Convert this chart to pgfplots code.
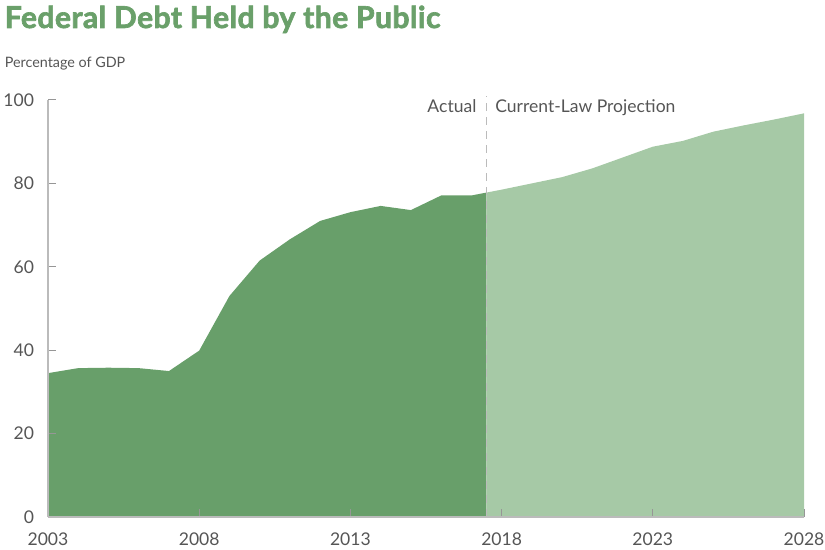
\documentclass[border=0pt]{standalone}
\usepackage{pgfplots}
\pgfplotsset{compat=1.18}
\usepackage{fontspec}
\setmainfont{Lato}
\newfontfamily\titlefont{Lato}[BoldFeatures={FakeBold=2.2, LetterSpace=1.5}]
\definecolor{darkg}{HTML}{689F6A}
\definecolor{lightg}{HTML}{A6C9A6}
\definecolor{titleg}{HTML}{6AA06A}
\definecolor{txt}{HTML}{555555}
\definecolor{axl}{HTML}{BBBBBB}
\begin{document}
\begin{tikzpicture}
\path[use as bounding box] (-24bp,-16.5bp) rectangle (388.5bp,258.5bp);
\begin{axis}[
  at={(0,0)}, anchor=south west,
  scale only axis, width=378bp, height=208.5bp,
  xmin=2003, xmax=2028, ymin=0, ymax=100,
  axis x line=bottom, axis y line=left,
  axis line style={-, draw=axl, line width=0.6pt},
  xtick={2003,2008,2013,2018,2023,2028},
  ytick={0,20,40,60,80,100},
  tick align=inside, major tick length=4bp,
  tick style={draw=axl!80!black, line width=0.5pt},
  /pgf/number format/assume math mode=true,
  xticklabel style={/pgf/number format/set thousands separator={}, font=\fontsize{8.8}{10}\selectfont, text=txt, yshift=-4.5bp},
  yticklabel style={font=\fontsize{8.8}{10}\selectfont, text=txt, xshift=-3.5bp},
  xtick pos=bottom, ytick pos=left,
  clip=false,
  axis on top,
]
\addplot[fill=darkg, draw=none] coordinates {
(2003,34.5) (2004,35.7) (2005,35.8) (2006,35.7) (2007,35.0) (2008,39.9)
(2009,53.0) (2010,61.5) (2011,66.6) (2012,71.0) (2013,73.1) (2014,74.6)
(2015,73.6) (2016,77.1) (2017,77.1) (2017.5,77.8)} \closedcycle;
\addplot[fill=lightg, draw=none] coordinates {
(2017.5,77.8) (2018,78.5) (2019,80.0) (2020,81.5) (2021,83.6) (2022,86.2)
(2023,88.8) (2024,90.2) (2025,92.4) (2026,93.9) (2027,95.3) (2028,96.8)} \closedcycle;
\addplot[draw=axl, line width=0.7pt, dash pattern=on 4bp off 3bp] coordinates {(2017.5,0) (2017.5,101)};
\node[anchor=base east, text=txt, font=\fontsize{8.8}{10}\selectfont, inner sep=0pt] at (axis cs:2017.18,97) {Actual};
\node[anchor=base west, text=txt, font=\fontsize{8.8}{10}\selectfont, inner sep=0pt] at (axis cs:2017.78,97) {Current-Law Projection};
\end{axis}
\node[anchor=base west, inner sep=0pt, text=titleg, font=\titlefont\fontsize{15.1}{16}\selectfont\bfseries] at (-21.8bp,244.5bp) {Federal Debt Held by the Public};
\node[anchor=base west, inner sep=0pt, text=txt, font=\fontsize{7.2}{9}\selectfont] at (-21.8bp,224.5bp) {Percentage of GDP};
\end{tikzpicture}
\end{document}
